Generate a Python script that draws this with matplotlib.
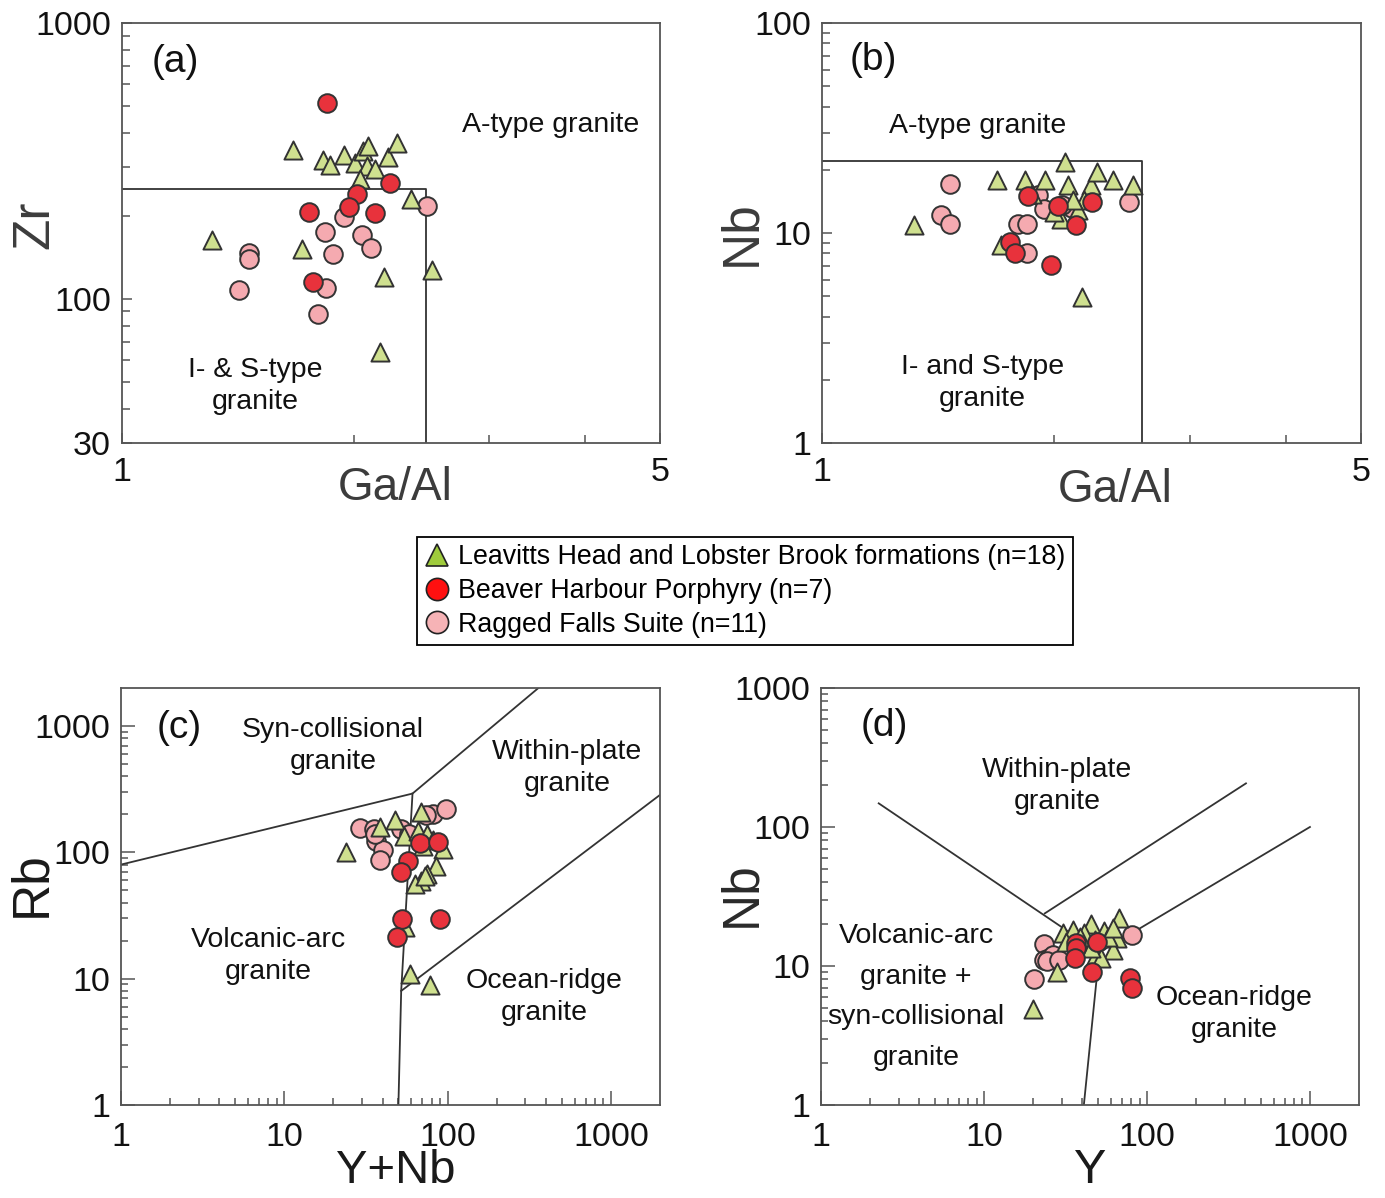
import matplotlib
matplotlib.use("Agg")
import matplotlib.pyplot as plt
from matplotlib.ticker import FixedLocator, NullFormatter, FixedFormatter
from matplotlib.lines import Line2D

plt.rcParams['font.family'] = ['Liberation Sans', 'DejaVu Sans']

# ---- (a) Ga/Al vs Zr ----
a_lh_x = [1.670, 1.826, 1.863, 1.940, 2.007, 2.054, 2.089, 2.080, 2.132, 2.218, 2.275, 2.038, 2.374, 2.530, 1.712, 1.310, 2.190, 2.164]
a_lh_y = [345, 318, 305, 332, 311, 344, 358, 303, 295, 327, 366, 271, 231, 127, 152, 164, 120, 63.9]
a_bh_x = [1.845, 2.229, 2.021, 1.974, 1.750, 2.134, 1.772]
a_bh_y = [511, 262, 239, 216, 207, 205, 115]
a_rf_x = [2.493, 1.940, 1.837, 2.048, 2.104, 1.882, 1.461, 1.461, 1.420, 1.839, 1.796]
a_rf_y = [217, 198, 174, 170, 153, 145, 146, 139, 108, 109, 88]
a_box_x = [1, 2.48, 2.48]
a_box_y = [250, 250, 30]

# ---- (b) Ga/Al vs Nb ----
b_lh_x = [1.318, 1.687, 1.836, 1.947, 2.067, 2.086, 2.232, 2.275, 2.381, 2.532, 2.189, 2.146, 2.040, 1.998, 1.705, 2.171, 1.872, 2.118]
b_lh_y = [10.9, 17.9, 17.9, 17.9, 21.8, 17.0, 16.9, 19.6, 17.9, 16.9, 14.4, 12.9, 11.7, 12.6, 8.77, 4.98, 15.4, 14.4]
b_bh_x = [1.852, 2.024, 2.240, 2.138, 1.754, 1.777, 1.980]
b_bh_y = [15.0, 13.4, 14.1, 10.9, 9.03, 8.0, 7.05]
b_rf_x = [1.466, 1.427, 1.466, 1.797, 1.843, 1.843, 1.908, 1.943, 2.108, 2.503, 2.05]
b_rf_y = [17.2, 12.2, 11.0, 11.0, 11.0, 8.01, 15.2, 13.0, 13.1, 14.1, 13.6]
b_box_x = [1, 2.6, 2.6]
b_box_y = [22, 22, 1]

# ---- (c) Y+Nb vs Rb ----
c_lh_x = [23.9, 38.3, 47.8, 54.1, 68.4, 65.9, 75.2, 81.6, 94, 85.5, 75.2, 69.1, 62.9, 72.4, 54.6, 58.6, 77.8, 70.8]
c_lh_y = [99.8, 159, 180, 135, 207, 148, 139, 125, 106, 78.4, 67.4, 59.7, 56.2, 65.3, 25.5, 10.9, 8.86, 113]
c_bh_x = [67.5, 87.5, 57.2, 52.1, 52.6, 89.5, 49.2]
c_bh_y = [117.6, 119.7, 85.9, 69.4, 29.8, 29.8, 21.3]
c_rf_x = [29.1, 35.4, 36.5, 40.3, 38.8, 52.1, 57.7, 81.6, 98.5, 74.2, 35.7]
c_rf_y = [157, 153, 123, 104, 87.4, 153, 139, 201, 220, 197, 139]
c_syn_x, c_syn_y = [1, 61, 360], [80, 292, 2000]
c_vag_x, c_vag_y = [61, 52, 50], [292, 8, 1]
c_org_x, c_org_y = [52, 2000], [8, 285]

# ---- (d) Y vs Nb ----
d_lh_x = [19.9, 28.1, 30.7, 35.3, 31.8, 45.2, 54.5, 67.6, 65.5, 61.6, 48.1, 52.2, 57.9, 41.2, 48.1, 38.8, 61.6, 45.2]
d_lh_y = [4.88, 9.1, 17.2, 18.2, 15.0, 20.0, 18.0, 22.0, 15.8, 13.0, 11.7, 11.4, 16.3, 17.2, 15.4, 16.3, 18.7, 13.4]
d_bh_x = [36.9, 36.9, 36.4, 46.1, 49.6, 78.9, 80.4]
d_bh_y = [14.6, 13.4, 11.4, 9.1, 15.0, 8.15, 6.9]
d_rf_x = [23.3, 23.5, 25.0, 27.3, 26.5, 20.2, 81.0, 37.2, 24.3, 29.0, 36.5]
d_rf_y = [14.3, 11.0, 11.5, 11.3, 11.9, 8.1, 16.8, 14.8, 10.8, 11.0, 15.5]
d_wpg_x, d_wpg_y = [2.26, 51], [148, 12.5]
d_up_x, d_up_y = [23.6, 405], [23.9, 206]
d_org_x, d_org_y = [51, 1000], [12.5, 100]
d_vert_x, d_vert_y = [41, 51], [1, 12.5]

legend_labels = ['Leavitts Head and Lobster Brook formations (n=18)',
                 'Beaver Harbour Porphyry (n=7)',
                 'Ragged Falls Suite (n=11)']

TRI = '#cfe08f'
RED = '#e8323c'
PINK = '#f5aab0'
EDGE = '#333333'
LINE = '#333333'

W, H = 1385, 1198
fig = plt.figure(figsize=(W / 100, H / 100), dpi=100)


def box(l, t, r, b):
    return [l / W, 1 - b / H, (r - l) / W, (b - t) / H]


ax_a = fig.add_axes(box(122, 23, 660, 443))
ax_b = fig.add_axes(box(822, 23, 1361, 443))
ax_c = fig.add_axes(box(121, 688, 660, 1105))
ax_d = fig.add_axes(box(821, 688, 1359, 1105))


def points(ax, lh, bh, rf):
    ax.scatter(rf[0], rf[1], s=180, marker='o', c=PINK, edgecolors=EDGE, linewidths=1.4, zorder=3)
    ax.scatter(lh[0], lh[1], s=170, marker='^', c=TRI, edgecolors=EDGE, linewidths=1.4, zorder=4)
    ax.scatter(bh[0], bh[1], s=180, marker='o', c=RED, edgecolors=EDGE, linewidths=1.4, zorder=5)


def frame(ax):
    ax.set_xscale('log')
    ax.set_yscale('log')
    for s in ax.spines.values():
        s.set_color('#555555')
        s.set_linewidth(1.3)


def decade_minor(lo, hi):
    out = []
    d = 1
    while d < hi:
        for k in range(2, 10):
            v = k * d
            if lo < v < hi:
                out.append(v)
        d *= 10
    return out


# panels a, b
for ax, lh, bh, rf, bx, by, ylim, ymaj, ylab, ymin in [
        (ax_a, (a_lh_x, a_lh_y), (a_bh_x, a_bh_y), (a_rf_x, a_rf_y), a_box_x, a_box_y,
         (30, 1000), [30, 100, 1000], ['30', '100', '1000'],
         [40, 50, 60, 70, 80, 90, 200, 300, 400, 500, 600, 700, 800, 900]),
        (ax_b, (b_lh_x, b_lh_y), (b_bh_x, b_bh_y), (b_rf_x, b_rf_y), b_box_x, b_box_y,
         (1, 100), [1, 10, 100], ['1', '10', '100'], decade_minor(1, 100))]:
    frame(ax)
    ax.plot(bx, by, color=LINE, lw=1.3, zorder=2)
    points(ax, lh, bh, rf)
    ax.set_xlim(1, 5)
    ax.set_ylim(*ylim)
    ax.xaxis.set_major_locator(FixedLocator([1, 5]))
    ax.xaxis.set_major_formatter(FixedFormatter(['1', '5']))
    ax.xaxis.set_minor_locator(FixedLocator([2, 3, 4]))
    ax.xaxis.set_minor_formatter(NullFormatter())
    ax.yaxis.set_major_locator(FixedLocator(ymaj))
    ax.yaxis.set_major_formatter(FixedFormatter(ylab))
    ax.yaxis.set_minor_locator(FixedLocator(ymin))
    ax.yaxis.set_minor_formatter(NullFormatter())
    ax.tick_params(which='both', direction='in', color='#555555', width=1.1,
                   labelsize=24.5, labelcolor='#111111')
    ax.tick_params(which='major', length=7)
    ax.tick_params(which='minor', length=6)
    ax.tick_params(axis='y', pad=8)
    ax.tick_params(axis='x', pad=10)

# panels c, d
for ax, lh, bh, rf, ytop in [
        (ax_c, (c_lh_x, c_lh_y), (c_bh_x, c_bh_y), (c_rf_x, c_rf_y), 2000),
        (ax_d, (d_lh_x, d_lh_y), (d_bh_x, d_bh_y), (d_rf_x, d_rf_y), 1000)]:
    frame(ax)
    points(ax, lh, bh, rf)
    ax.set_xlim(1, 2000)
    ax.set_ylim(1, ytop)
    ax.xaxis.set_major_locator(FixedLocator([1, 10, 100, 1000]))
    ax.xaxis.set_major_formatter(FixedFormatter(['1', '10', '100', '1000']))
    ax.xaxis.set_minor_locator(FixedLocator(decade_minor(1, 2000)))
    ax.xaxis.set_minor_formatter(NullFormatter())
    ax.yaxis.set_major_locator(FixedLocator([1, 10, 100, 1000]))
    ax.yaxis.set_major_formatter(FixedFormatter(['1', '10', '100', '1000']))
    ax.yaxis.set_minor_locator(FixedLocator(decade_minor(1, ytop)))
    ax.yaxis.set_minor_formatter(NullFormatter())
    ax.tick_params(which='both', direction='in', color='#555555', width=1.1,
                   labelsize=24.5, labelcolor='#111111')
    ax.tick_params(which='major', length=10)
    ax.tick_params(which='minor', length=5)
    ax.tick_params(axis='y', pad=8)
    ax.tick_params(axis='x', pad=12)

for xs, ys in [(c_syn_x, c_syn_y), (c_vag_x, c_vag_y), (c_org_x, c_org_y)]:
    ax_c.plot(xs, ys, color=LINE, lw=1.3, zorder=2)
for xs, ys in [(d_wpg_x, d_wpg_y), (d_up_x, d_up_y), (d_org_x, d_org_y), (d_vert_x, d_vert_y)]:
    ax_d.plot(xs, ys, color=LINE, lw=1.3, zorder=2)

# axis labels
lab = dict(ha='center', va='center')
ax_a.text(0.507, -0.107, 'Ga/Al', transform=ax_a.transAxes, fontsize=33, color='#3c3c3c', **lab)
ax_b.text(0.544, -0.112, 'Ga/Al', transform=ax_b.transAxes, fontsize=33, color='#3c3c3c', **lab)
ax_a.text(-0.162, 0.52, 'Zr', transform=ax_a.transAxes, fontsize=37, rotation=90, color='#3c3c3c', **lab)
ax_b.text(-0.148, 0.50, 'Nb', transform=ax_b.transAxes, fontsize=37, rotation=90, color='#3c3c3c', **lab)
ax_c.text(-0.165, 0.53, 'Rb', transform=ax_c.transAxes, fontsize=37, rotation=90, color='#1a1a1a', **lab)
ax_c.text(0.51, -0.158, 'Y+Nb', transform=ax_c.transAxes, fontsize=34, color='#1a1a1a', **lab)
ax_d.text(-0.147, 0.505, 'Nb', transform=ax_d.transAxes, fontsize=37, rotation=90, color='#2a2a2a', **lab)
ax_d.text(0.50, -0.158, 'Y', transform=ax_d.transAxes, fontsize=35, color='#1a1a1a', **lab)

# panel letters and field names
reg = dict(ha='center', va='center', fontsize=20.5, color='#111111', linespacing=1.32)
for ax, x, y, s in [(ax_a, 0.0985, 0.907, '(a)'), (ax_b, 0.0946, 0.912, '(b)'),
                    (ax_c, 0.1076, 0.904, '(c)'), (ax_d, 0.117, 0.909, '(d)')]:
    ax.text(x, y, s, transform=ax.transAxes, ha='center', va='center', fontsize=28, color='#111111')

ax_a.text(0.796, 0.757, 'A-type granite', transform=ax_a.transAxes, **reg)
ax_a.text(0.247, 0.136, 'I- & S-type\ngranite', transform=ax_a.transAxes, **reg)
ax_b.text(0.289, 0.755, 'A-type granite', transform=ax_b.transAxes, **reg)
ax_b.text(0.297, 0.143, 'I- and S-type\ngranite', transform=ax_b.transAxes, **reg)
ax_c.text(0.393, 0.861, 'Syn-collisional\ngranite', transform=ax_c.transAxes, **reg)
ax_c.text(0.827, 0.808, 'Within-plate\ngranite', transform=ax_c.transAxes, **reg)
ax_c.text(0.273, 0.357, 'Volcanic-arc\ngranite', transform=ax_c.transAxes, **reg)
ax_c.text(0.785, 0.259, 'Ocean-ridge\ngranite', transform=ax_c.transAxes, **reg)
ax_d.text(0.439, 0.765, 'Within-plate\ngranite', transform=ax_d.transAxes, **reg)
ax_d.text(0.768, 0.218, 'Ocean-ridge\ngranite', transform=ax_d.transAxes, **reg)
ax_d.text(0.177, 0.259, 'Volcanic-arc\ngranite +\nsyn-collisional\ngranite', transform=ax_d.transAxes,
          ha='center', va='center', fontsize=20.5, color='#111111', linespacing=1.72)

# legend
handles = [
    Line2D([], [], ls='none', marker='^', markersize=16, markerfacecolor='#9fcb3c', markeredgecolor='#222222', markeredgewidth=1.2),
    Line2D([], [], ls='none', marker='o', markersize=16, markerfacecolor='#ff1010', markeredgecolor='#222222', markeredgewidth=1.2),
    Line2D([], [], ls='none', marker='o', markersize=16, markerfacecolor='#f6b3b6', markeredgecolor='#222222', markeredgewidth=1.2),
]
leg = fig.legend(handles, legend_labels, loc='center', bbox_to_anchor=(745 / W, 1 - 591 / H),
                 fontsize=19.3, frameon=True, fancybox=False, edgecolor='black', framealpha=1,
                 handlelength=0.9, handletextpad=0.35, borderpad=0.28, labelspacing=0.28,
                 borderaxespad=0)
leg.get_frame().set_linewidth(1.3)

fig.savefig('out.png', dpi=100)
